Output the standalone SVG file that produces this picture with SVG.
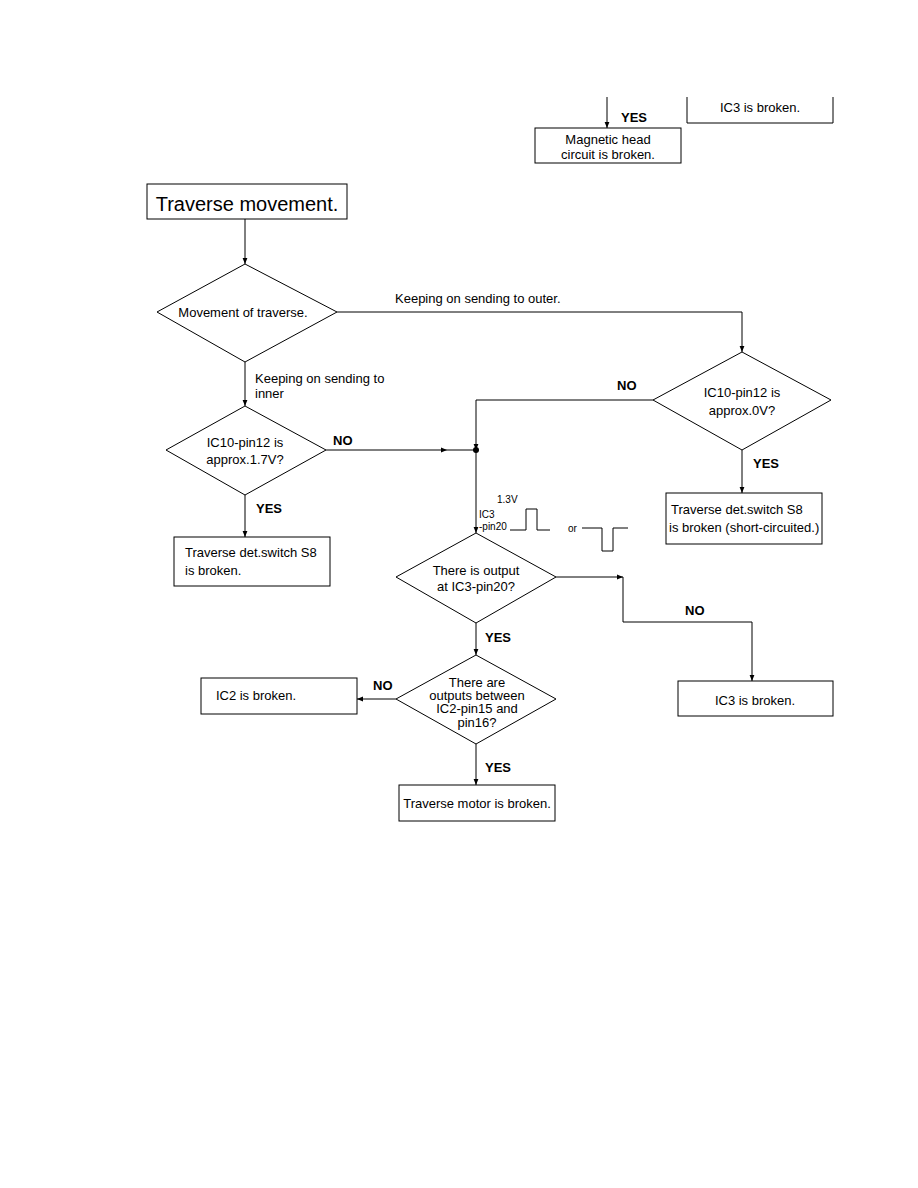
<svg xmlns="http://www.w3.org/2000/svg" width="918" height="1188" viewBox="0 0 918 1188">
<style>
.b{fill:#fff;stroke:#000;stroke-width:1}
.t{font-family:"Liberation Sans",Arial,sans-serif;font-size:13px;fill:#000}
.c{text-anchor:middle}
.l{font-family:"Liberation Sans",Arial,sans-serif;font-size:13px;font-weight:bold;fill:#000}
.w{fill:none;stroke:#000;stroke-width:1}
</style>
<defs>
<marker id="a" viewBox="0 0 10 10" refX="10" refY="5" markerWidth="6" markerHeight="6" orient="auto" markerUnits="userSpaceOnUse"><path d="M0,1 L10,5 L0,9 z" fill="#000"/></marker>
</defs>
<rect width="918" height="1188" fill="#fff"/>
<g id="connectors" class="w">
<line x1="607" y1="97" x2="607" y2="128" marker-end="url(#a)"/>
<line x1="245" y1="219" x2="245" y2="264" marker-end="url(#a)"/>
<polyline points="337,312 742,312 742,352" marker-end="url(#a)"/>
<line x1="245" y1="362" x2="245" y2="406" marker-end="url(#a)"/>
<polyline points="653,400 476,400 476,450" marker-end="url(#a)"/>
<line x1="742" y1="450" x2="742" y2="493" marker-end="url(#a)"/>
<line x1="326" y1="450" x2="447" y2="450" marker-end="url(#a)"/>
<line x1="447" y1="450" x2="476" y2="450"/>
<circle cx="476" cy="450" r="3" fill="#000" stroke="none"/>
<line x1="245" y1="495" x2="245" y2="537" marker-end="url(#a)"/>
<line x1="476" y1="450" x2="476" y2="533" marker-end="url(#a)"/>
<line x1="556" y1="577" x2="623" y2="577" marker-end="url(#a)"/>
<polyline points="623,577 623,622 752,622 752,681" marker-end="url(#a)"/>
<line x1="476" y1="623" x2="476" y2="655" marker-end="url(#a)"/>
<line x1="396" y1="699" x2="357" y2="699" marker-end="url(#a)"/>
<line x1="476" y1="744" x2="476" y2="785" marker-end="url(#a)"/>
<polyline points="510,530 526,530 526,509 537,509 537,530 550,530"/>
<polyline points="582,528 602,528 602,551 613,551 613,528 628,528"/>
</g>
<g id="labels">
<text class="l" x="621" y="122">YES</text>
<text class="t" x="395" y="303">Keeping on sending to outer.</text>
<text class="t" x="255" y="383">Keeping on sending to</text>
<text class="t" x="255" y="398">inner</text>
<text class="l" x="617" y="390">NO</text>
<text class="l" x="753" y="468">YES</text>
<text class="l" x="333" y="445">NO</text>
<text class="l" x="256" y="513">YES</text>
<text class="t" x="479" y="518" style="font-size:10px">IC3</text>
<text class="t" x="497" y="503" style="font-size:10px">1.3V</text>
<text class="t" x="479" y="530" style="font-size:10px">-pin20</text>
<text class="t" x="568" y="532" style="font-size:10px">or</text>
<text class="l" x="685" y="615">NO</text>
<text class="l" x="485" y="642">YES</text>
<text class="l" x="373" y="690">NO</text>
<text class="l" x="485" y="772">YES</text>
</g>
<g id="n_ic3_top">
<polyline class="w" points="687,97 687,123 833,123 833,97"/>
<text class="t c" x="760" y="112">IC3 is broken.</text>
</g>
<g id="n_maghead">
<rect class="b" x="535" y="128" width="146" height="35"/>
<text class="t c" x="608" y="144">Magnetic head</text>
<text class="t c" x="608" y="159">circuit is broken.</text>
</g>
<g id="n_start">
<rect class="b" x="147" y="184" width="200" height="35"/>
<text class="t c" x="247" y="211" style="font-size:20px">Traverse movement.</text>
</g>
<g id="n_move">
<polygon class="b" points="245,264 337,312 245,362 157,312"/>
<text class="t c" x="243" y="317">Movement of traverse.</text>
</g>
<g id="n_0v">
<polygon class="b" points="742,352 831,400 742,450 653,400"/>
<text class="t c" x="742" y="397">IC10-pin12 is</text>
<text class="t c" x="742" y="415">approx.0V?</text>
</g>
<g id="n_s8short">
<rect class="b" x="666" y="493" width="156" height="51"/>
<text class="t" x="671" y="514">Traverse det.switch S8</text>
<text class="t" x="669" y="532">is broken (short-circuited.)</text>
</g>
<g id="n_17v">
<polygon class="b" points="245,406 326,450 245,495 166,450"/>
<text class="t c" x="245" y="447">IC10-pin12 is</text>
<text class="t c" x="245" y="464">approx.1.7V?</text>
</g>
<g id="n_s8">
<rect class="b" x="174" y="537" width="156" height="49"/>
<text class="t" x="185" y="557">Traverse det.switch S8</text>
<text class="t" x="185" y="575">is broken.</text>
</g>
<g id="n_output">
<polygon class="b" points="476,533 556,577 476,623 396,577"/>
<text class="t c" x="476" y="575">There is output</text>
<text class="t c" x="476" y="591">at IC3-pin20?</text>
</g>
<g id="n_ic3">
<rect class="b" x="678" y="681" width="155" height="35"/>
<text class="t c" x="755" y="705">IC3 is broken.</text>
</g>
<g id="n_outputs2">
<polygon class="b" points="476,655 556,699 476,744 396,699"/>
<text class="t c" x="477" y="687">There are</text>
<text class="t c" x="477" y="700">outputs between</text>
<text class="t c" x="477" y="713">IC2-pin15 and</text>
<text class="t c" x="477" y="727">pin16?</text>
</g>
<g id="n_ic2">
<rect class="b" x="201" y="678" width="156" height="36"/>
<text class="t c" x="256" y="700">IC2 is broken.</text>
</g>
<g id="n_motor">
<rect class="b" x="399" y="785" width="156" height="36"/>
<text class="t c" x="477" y="808">Traverse motor is broken.</text>
</g>
</svg>
